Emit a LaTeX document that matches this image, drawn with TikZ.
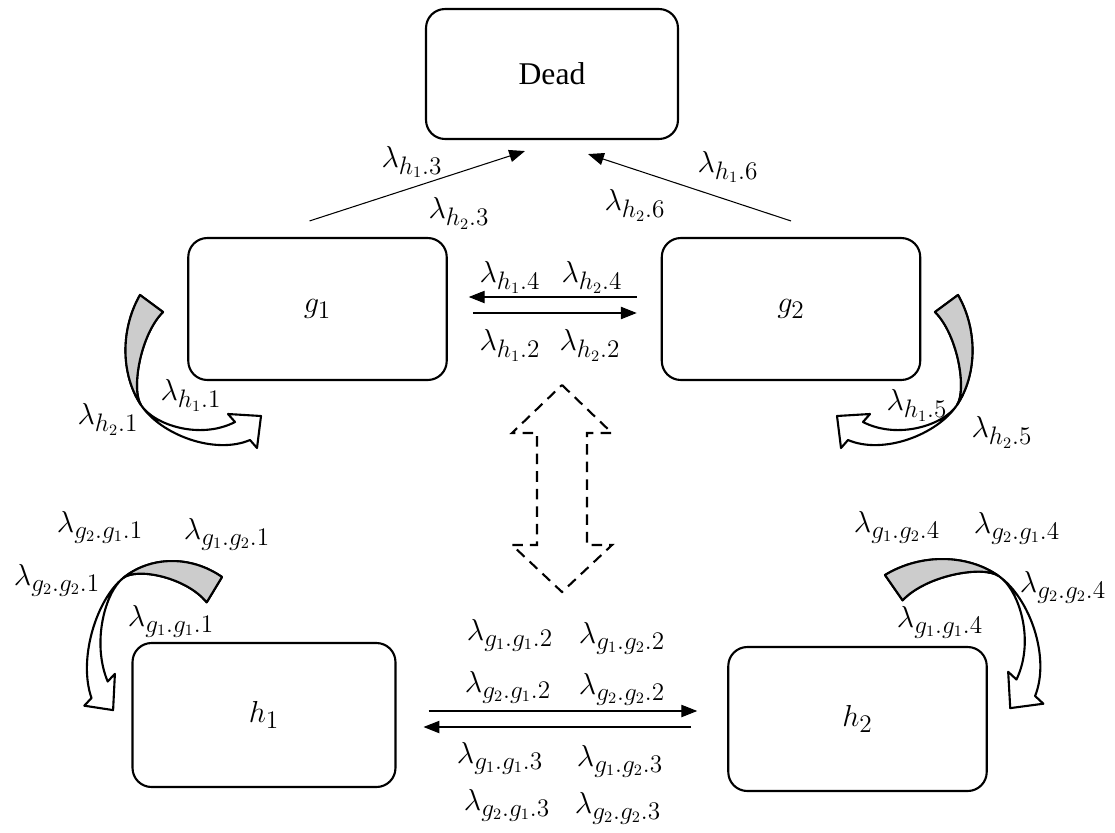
\documentclass[tikz,border=0pt]{standalone}
\usepackage{fontspec}
\newfontfamily\deadfont{Liberation Serif}
\usepackage{tikz}
\usetikzlibrary{arrows.meta,calc}

% twisted block arrow, drawn from its tail
\newcommand{\twistarrow}{%
    \draw[band, fill=white] (0,0) .. controls (-20,35) and (-19,80) .. (1,110)
        .. controls (21,140) and (75,160) .. (110,145) -- (117,153) -- (121,121) -- (88,119) -- (95,127)
        .. controls (60,145) and (14,130) .. (1,110)
        .. controls (-9,95) and (0,40) .. (23,17) -- cycle;
    \draw[band, fill=black!20] (0,0) .. controls (-20,35) and (-19,80) .. (1,110)
        .. controls (-9,95) and (0,40) .. (23,17) -- cycle;
}

\tikzset{
    state/.style={draw, line width=1.2pt, rounded corners=0.38cm, minimum width=5.17cm, minimum height=2.84cm, font=\fontsize{19}{22}\selectfont},
    rate/.style={font=\fontsize{19}{22}\selectfont, inner sep=0pt},
    conn/.style={line width=0.6pt, -{Triangle[length=9pt,width=7pt]}},
    band/.style={line width=1.2pt, line join=round},
}

\begin{document}
\begin{tikzpicture}[x=0.02cm, y=-0.02cm]

    \useasboundingbox (0,0) rectangle (1115,832);

    % States
    \node[state, minimum width=5.04cm, minimum height=2.6cm] (dead) at (552,74) {\deadfont\fontsize{18}{21}\selectfont Dead};
    \node[state] (g1) at (317.5,309) {$g_1$};
    \node[state] (g2) at (791,309) {$g_2$};
    \node[state, minimum width=5.26cm, minimum height=2.88cm] (h1) at (264,715) {$h_1$};
    \node[state, minimum height=2.88cm] (h2) at (857.5,719) {$h_2$};

    % Transitions to Dead
    \draw[conn] ($(g1.north)+(-8,-16)$) -- ($(dead.south)+(-27,11)$);
    \draw[conn] ($(g2.north)+(0,-16)$) -- ($(dead.south)+(36,14)$);

    % Transitions g1 <-> g2
    \draw[conn] ($(g2.west)+(-24,-12)$) -- ($(g1.east)+(21,-12)$);
    \draw[conn] ($(g1.east)+(25,4)$) -- ($(g2.west)+(-24,4)$);

    % Transitions h1 <-> h2
    \draw[conn] ($(h1.east)+(32,-4)$) -- ($(h2.west)+(-30,-8)$);
    \draw[conn] ($(h2.west)+(-36,8)$) -- ($(h1.east)+(27,12)$);

    % Self transitions
    \begin{scope}[shift={(140,295)}]
        \twistarrow
    \end{scope}
    \begin{scope}[shift={(958,295)}, xscale=-1]
        \twistarrow
    \end{scope}
    \begin{scope}[shift={(222,577)}, rotate=-90, xscale=1.1, yscale=0.9]
        \twistarrow
    \end{scope}
    \begin{scope}[shift={(885,575)}, xscale=-1.15, rotate=-90, xscale=1.1, yscale=0.9]
        \twistarrow
    \end{scope}

    % Dashed double arrow between levels
    \draw[line width=1.2pt, dash pattern=on 6pt off 4pt] (562,385) -- (612,433) -- (587,433) -- (587,545) -- (612,545)
        -- (562,592) -- (512,545) -- (537,545) -- (537,433) -- (512,433) -- cycle;

    % Rates
    \foreach \x/\y/\t [count=\i] in {412/162/h_1.3, 459/213/h_2.3, 635/205/h_2.6, 728/167/h_1.6,
        510/277/h_1.4, 592/277/h_2.4, 510/345/h_1.2, 590/345/h_2.2,
        191/395/h_1.1, 108/419/h_2.1, 917/405/h_1.5, 1002/432/h_2.5} {
        \node[rate] (rh\i) at (\x,\y) {$\lambda_{\t}$};
    }
    \foreach \x/\y/\t [count=\i] in {100/527/g_2.g_1.1, 227/534/g_1.g_2.1, 57/580/g_2.g_2.1, 171/621/g_1.g_1.1,
        897/527/g_1.g_2.4, 1017/528/g_2.g_1.4, 1063/587/g_2.g_2.4, 940/622/g_1.g_1.4,
        510/635/g_1.g_1.2, 622/638/g_1.g_2.2, 508/687/g_2.g_1.2, 622/689/g_2.g_2.2,
        500/758/g_1.g_1.3, 620/761/g_1.g_2.3, 507/805/g_2.g_1.3, 618/808/g_2.g_2.3} {
        \node[rate] (rg\i) at (\x,\y) {$\lambda_{\t}$};
    }

\end{tikzpicture}
\end{document}
